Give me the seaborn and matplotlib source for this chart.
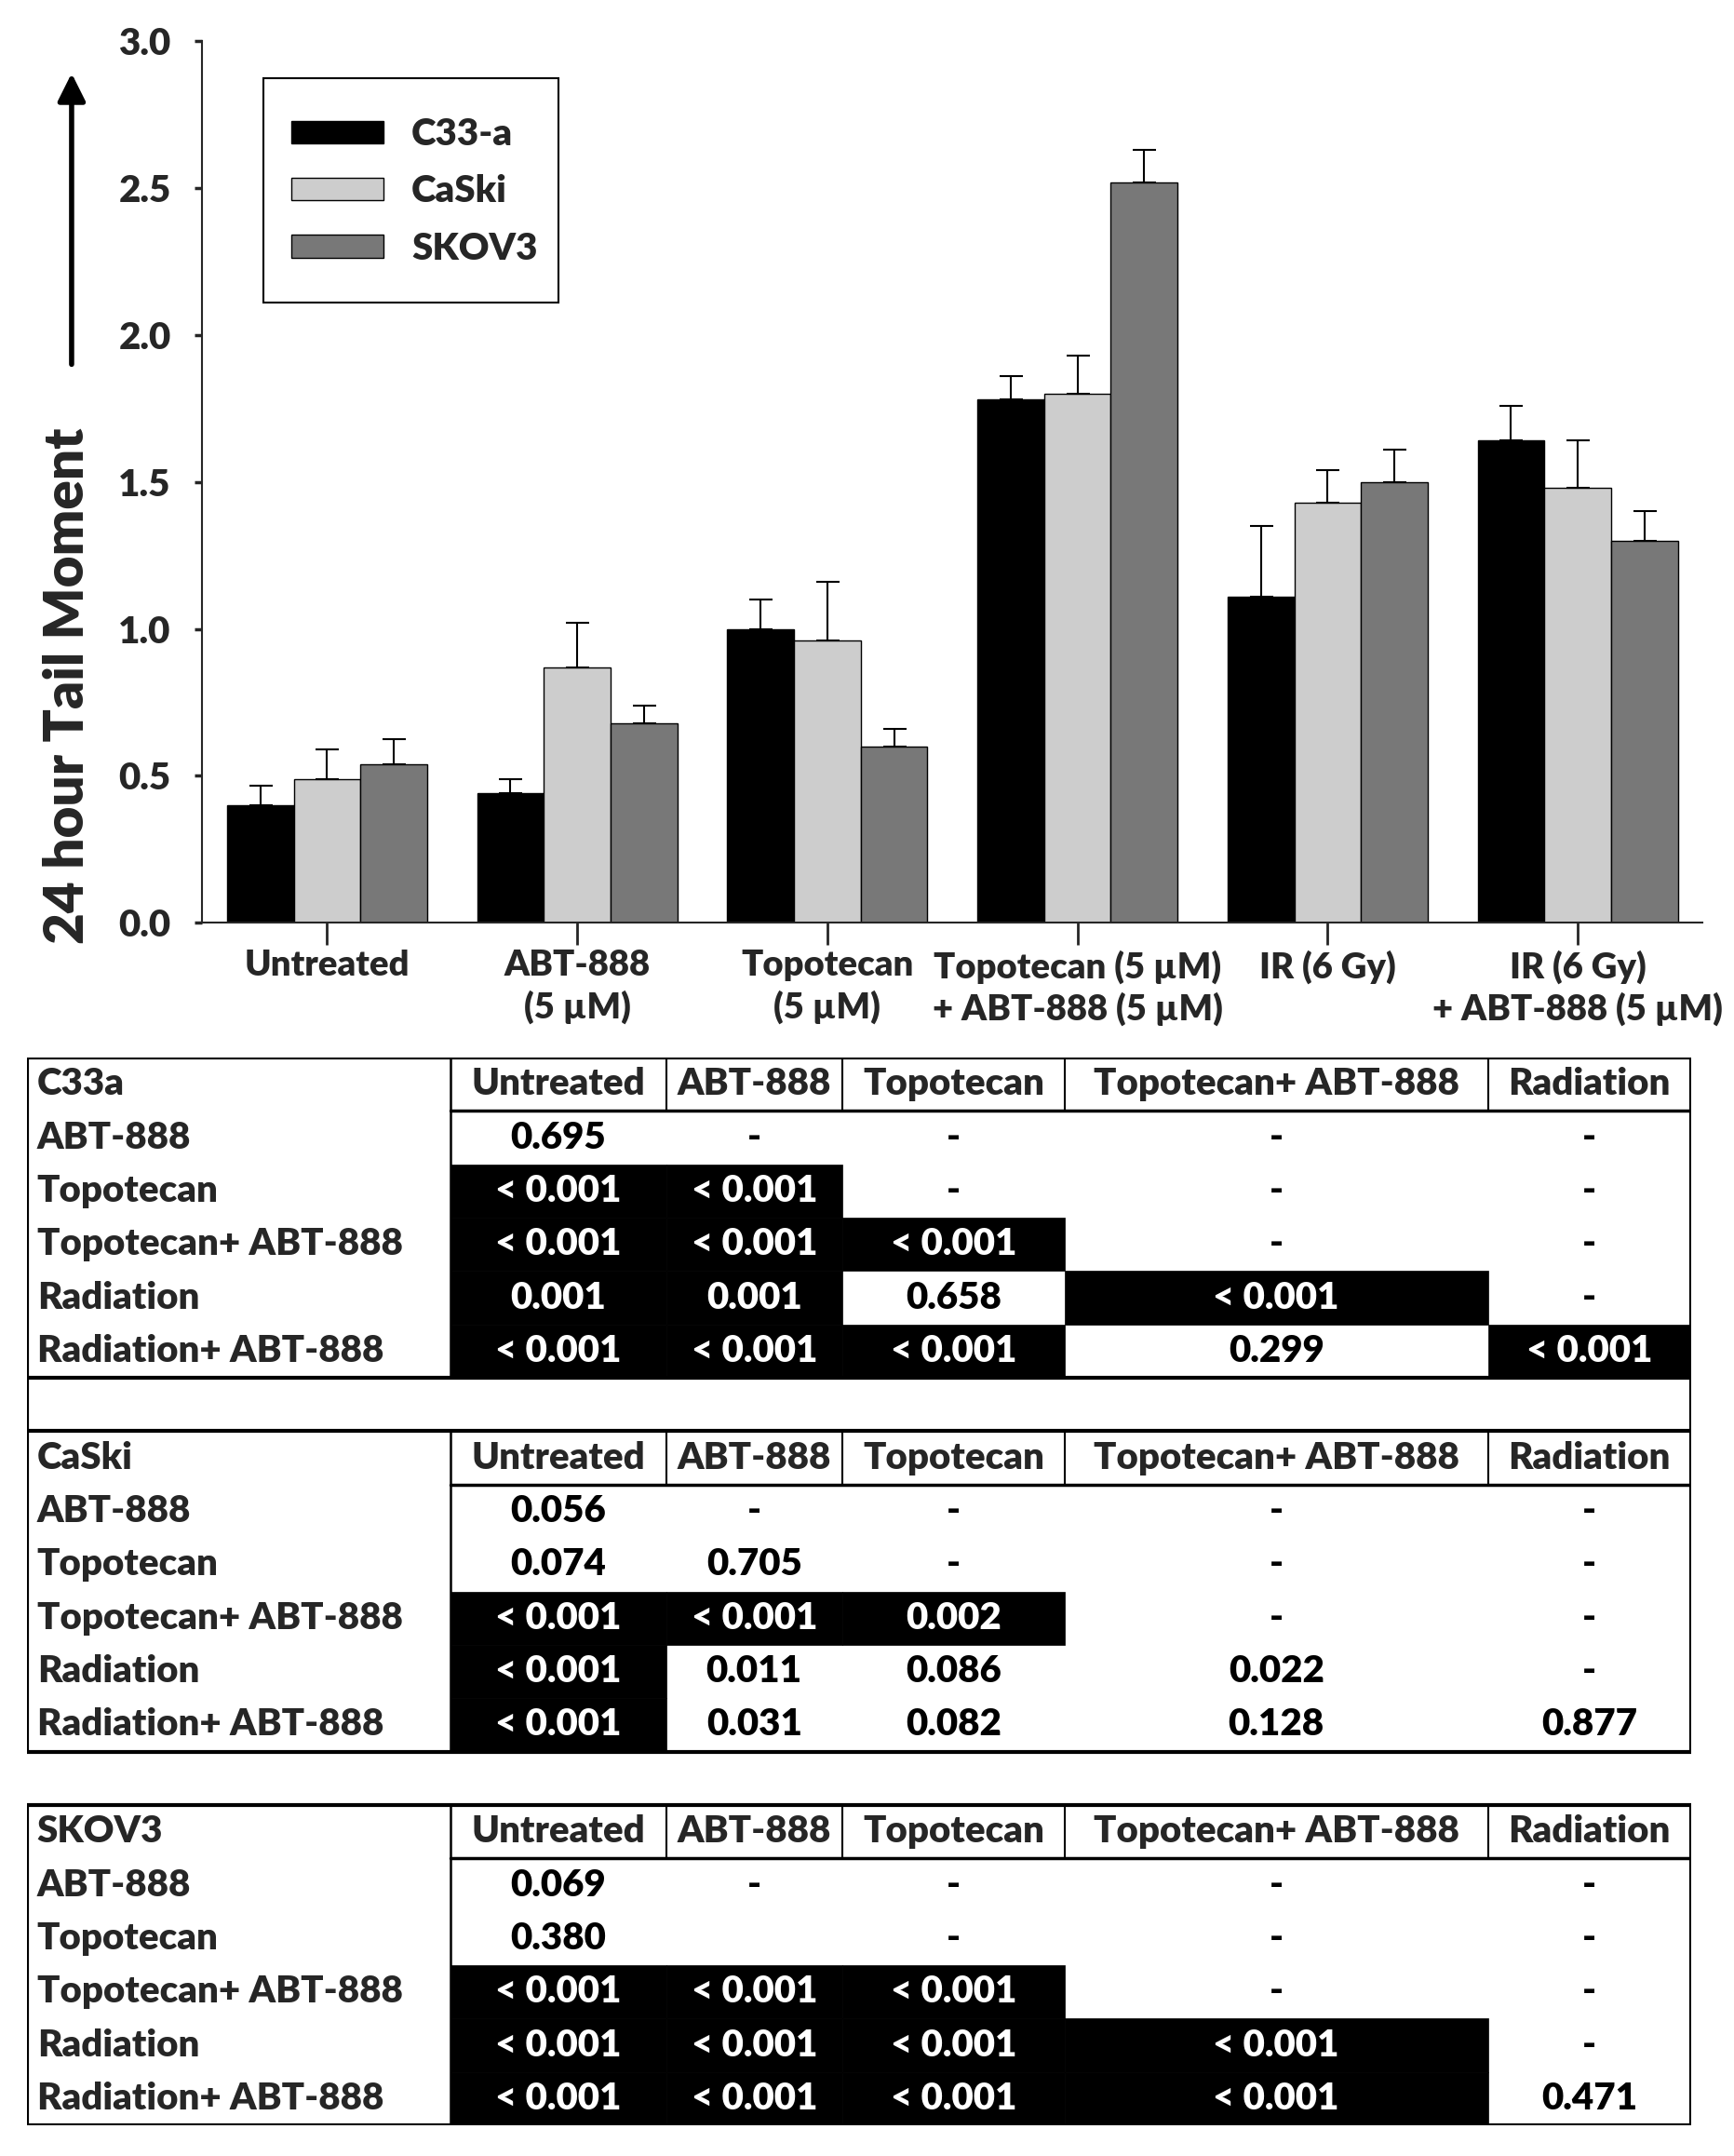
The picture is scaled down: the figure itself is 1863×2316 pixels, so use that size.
import numpy as np
import pandas as pd
import seaborn as sns
import matplotlib
matplotlib.use("Agg")
from matplotlib import pyplot as plt
from matplotlib.patches import Rectangle

# bar chart data (mean tail moment + SEM)
treatments = ["Untreated", "ABT-888\n(5 µM)", "Topotecan\n(5 µM)",
              "Topotecan (5 µM)\n+ ABT-888 (5 µM)", "IR (6 Gy)",
              "IR (6 Gy)\n+ ABT-888 (5 µM)"]
cell_lines = ["C33-a", "CaSki", "SKOV3"]
c33a_mean = [0.40, 0.44, 1.00, 1.78, 1.11, 1.64]
c33a_err = [0.065, 0.05, 0.10, 0.08, 0.24, 0.12]
caski_mean = [0.49, 0.87, 0.96, 1.80, 1.43, 1.48]
caski_err = [0.10, 0.15, 0.20, 0.13, 0.11, 0.16]
skov3_mean = [0.54, 0.68, 0.60, 2.52, 1.50, 1.30]
skov3_err = [0.085, 0.06, 0.06, 0.11, 0.11, 0.10]

# p value tables
col_labels = ["Untreated", "ABT-888", "Topotecan", "Topotecan+ ABT-888", "Radiation"]
row_labels = ["ABT-888", "Topotecan", "Topotecan+ ABT-888", "Radiation", "Radiation+ ABT-888"]
c33a_p = [["0.695", "-", "-", "-", "-"],
          ["< 0.001", "< 0.001", "-", "-", "-"],
          ["< 0.001", "< 0.001", "< 0.001", "-", "-"],
          ["0.001", "0.001", "0.658", "< 0.001", "-"],
          ["< 0.001", "< 0.001", "< 0.001", "0.299", "< 0.001"]]
caski_p = [["0.056", "-", "-", "-", "-"],
           ["0.074", "0.705", "-", "-", "-"],
           ["< 0.001", "< 0.001", "0.002", "-", "-"],
           ["< 0.001", "0.011", "0.086", "0.022", "-"],
           ["< 0.001", "0.031", "0.082", "0.128", "0.877"]]
skov3_p = [["0.069", "-", "-", "-", "-"],
           ["0.380", "", "-", "-", "-"],
           ["< 0.001", "< 0.001", "< 0.001", "-", "-"],
           ["< 0.001", "< 0.001", "< 0.001", "< 0.001", "-"],
           ["< 0.001", "< 0.001", "< 0.001", "< 0.001", "0.471"]]
table_names = ["C33a", "CaSki", "SKOV3"]

sns.set_style("ticks")
plt.rcParams['font.family'] = ['Lato', 'DejaVu Sans']
W = "heavy"
plt.rcParams['font.weight'] = W

#%%
df = pd.DataFrame({
    "treatment": treatments * 3,
    "line": sum([[c] * 6 for c in cell_lines], []),
    "value": c33a_mean + caski_mean + skov3_mean,
})
errs = [c33a_err, caski_err, skov3_err]
colors = ["#000000", "#cdcdcd", "#787878"]

fig = plt.figure(figsize=(18.63, 23.16), dpi=100)
ax = fig.add_axes([0.1165, 0.572, 0.8655, 0.409])

sns.barplot(data=df, x="treatment", y="value", hue="line", hue_order=cell_lines,
            palette=colors, saturation=1, edgecolor="black", linewidth=1,
            width=0.8, errorbar=None, ax=ax)

# upper-only error bars
for cont, err in zip(ax.containers, errs):
    xs = [b.get_x() + b.get_width() / 2 for b in cont]
    ys = [b.get_height() for b in cont]
    ax.errorbar(xs, ys, yerr=[np.zeros(len(err)), err], fmt="none",
                ecolor="black", elinewidth=1.5, capsize=9, capthick=1.5, zorder=1)

ax.set_xlim(-0.5, 5.5)
ax.set_ylim(0, 3)
ax.set_yticks(np.arange(0, 3.01, 0.5))
ax.set_yticklabels([f"{v:.1f}" for v in np.arange(0, 3.01, 0.5)])
ax.set_xlabel("")
ax.set_ylabel("")
sns.despine(ax=ax)
for s in ["left", "bottom"]:
    ax.spines[s].set_linewidth(1.5)
ax.tick_params(axis="y", length=6, width=2.5, labelsize=29, pad=18)
ax.tick_params(axis="x", length=17, width=2, labelsize=27.5, pad=4)
for t in ax.get_xticklabels() + ax.get_yticklabels():
    t.set_fontweight(W)
for t in ax.get_xticklabels():
    t.set_linespacing(1.3)

# legend without its own frame, box drawn separately
leg = ax.legend(loc="center left", bbox_to_anchor=(0.0596, 0.829), borderaxespad=0,
                fontsize=29, frameon=False, handlelength=2.45, handleheight=0.55,
                labelspacing=0.6, borderpad=0, handletextpad=0.75)
for t in leg.get_texts():
    t.set_fontweight(W)
ax.add_patch(Rectangle((0.041, 0.703), 0.1966, 0.255, transform=ax.transAxes,
                       fill=False, edgecolor="black", lw=1.5, zorder=5))

fig.text(0.039, 0.682, "24 hour Tail Moment", rotation=90, ha="center", va="center",
         fontsize=42, fontweight=W)
ax.annotate("", xy=(0.0413, 0.966), xycoords="figure fraction",
            xytext=(0.0413, 0.831), textcoords="figure fraction",
            arrowprops=dict(arrowstyle="-|>", lw=4, color="black", mutation_scale=45,
                            shrinkA=0, shrinkB=0))

#%%
# tables
tax = fig.add_axes([0.0158, 0.0142, 0.9595, 0.4953])
col_edges = [20, 328, 485, 613, 775, 1083, 1231]
tax.set_xlim(col_edges[0], col_edges[-1])
tax.set_ylim(20, 0)
tax.axis("off")
FS = 29


def is_sig(p):
    if p.startswith("<"):
        return True
    try:
        return float(p) < 0.01
    except ValueError:
        return False


def draw_table(r0, name, pvals):
    # header
    tax.text(col_edges[0] + 7, r0 + 0.5, name, ha="left", va="center", fontsize=FS,
             fontweight=W)
    for j, lab in enumerate(col_labels):
        xc = (col_edges[j + 1] + col_edges[j + 2]) / 2
        tax.text(xc, r0 + 0.5, lab, ha="center", va="center", fontsize=FS, fontweight=W)
    for i, lab in enumerate(row_labels):
        y = r0 + 1 + i
        tax.text(col_edges[0] + 7, y + 0.5, lab, ha="left", va="center", fontsize=FS,
                 fontweight=W)
        for j, p in enumerate(pvals[i]):
            x0, x1 = col_edges[j + 1], col_edges[j + 2]
            sig = is_sig(p)
            if sig:
                tax.add_patch(Rectangle((x0, y), x1 - x0, 1, facecolor="black",
                                        edgecolor="black", lw=0.5))
            tax.text((x0 + x1) / 2, y + 0.5, p, ha="center", va="center", fontsize=FS,
                     fontweight=W, color="white" if sig else "black")
    # grid lines
    for e in col_edges[2:-1]:
        tax.plot([e, e], [r0, r0 + 1], color="black", lw=1.5)
    tax.plot([col_edges[1]] * 2, [r0, r0 + 6], color="black", lw=1.8)
    tax.plot([col_edges[1], col_edges[-1]], [r0 + 1, r0 + 1], color="black", lw=2.5)
    tax.add_patch(Rectangle((col_edges[0], r0), col_edges[-1] - col_edges[0], 6,
                            fill=False, edgecolor="black", lw=3))


draw_table(0, table_names[0], c33a_p)
draw_table(7, table_names[1], caski_p)
draw_table(14, table_names[2], skov3_p)
for e in [col_edges[0], col_edges[-1]]:
    tax.plot([e, e], [6, 7], color="black", lw=3)

fig.savefig("out.png", dpi=100)
